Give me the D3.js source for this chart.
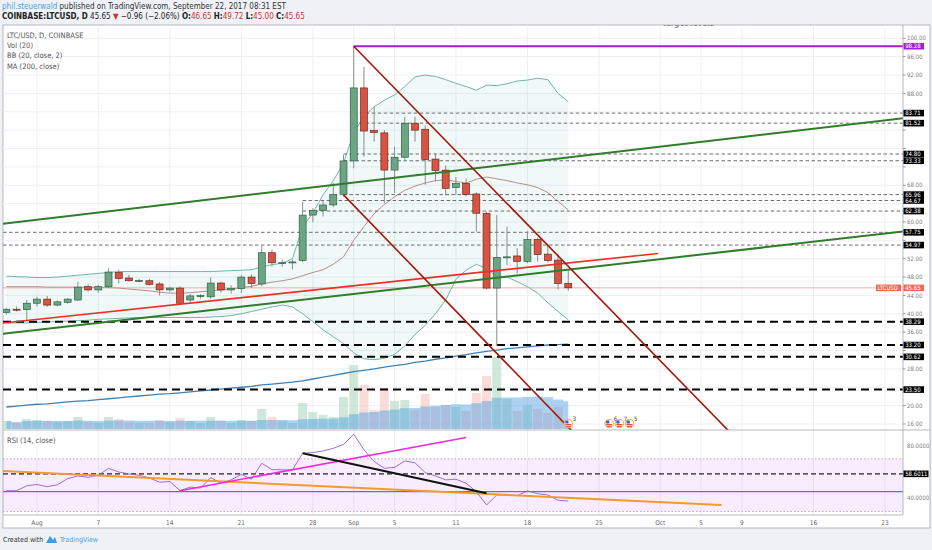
<!DOCTYPE html>
<html>
<head>
<meta charset="utf-8">
<script src="https://cdn.jsdelivr.net/npm/d3@7"></script>
<style>
  body { margin: 0; background: #eef1f5; }
  svg text { font-family: "Liberation Sans Narrow", "DejaVu Sans Condensed", "Liberation Sans", sans-serif; }
</style>
</head>
<body>
<svg id="chart" width="932" height="550"></svg>
<script>
// daily candles from Jul 29 2017 to Sep 22 2017
const firstDay = '2017-07-29';
const opens = [40.3, 41.0, 40.9, 42.3, 43.2, 41.9, 42.5, 43.0, 45.9, 45.2,
  45.9, 49.0, 47.8, 47.2, 47.2, 46.5, 45.2, 45.6, 43.0, 43.9,
  43.7, 46.7, 45.2, 45.5, 48.0, 46.5, 53.3, 51.1, 51.2, 51.6,
  61.5, 62.5, 63.7, 66.0, 73.3, 89.2, 79.9, 79.4, 71.3, 74.1,
  81.5, 80.2, 73.7, 71.3, 67.5, 68.4, 66.1, 61.9, 45.6, 52.2,
  52.6, 51.4, 56.2, 53.0, 51.7, 46.65];
const highs = [41.3, 41.6, 43.0, 43.7, 43.9, 42.9, 43.4, 47.0, 46.5, 46.3,
  49.9, 49.6, 48.5, 47.6, 47.6, 46.9, 45.9, 46.0, 44.3, 44.3,
  47.9, 47.0, 46.2, 48.4, 48.6, 54.8, 54.0, 51.8, 51.8, 64.4,
  63.0, 64.6, 68.5, 74.6, 98.28, 93.8, 85.1, 80.0, 76.4, 82.9,
  82.9, 81.0, 75.0, 72.3, 69.8, 69.5, 66.5, 62.2, 61.5, 59.0,
  54.3, 57.9, 56.6, 55.0, 53.0, 49.72];
const lows = [39.8, 40.5, 38.7, 41.6, 41.5, 41.6, 42.2, 42.8, 44.8, 44.6,
  45.6, 46.6, 47.0, 46.9, 46.2, 44.0, 44.8, 42.0, 42.3, 43.3,
  43.3, 44.6, 44.4, 44.6, 45.6, 46.0, 50.3, 50.3, 49.7, 51.3,
  59.9, 61.2, 63.2, 65.5, 71.7, 74.2, 77.5, 64.1, 66.3, 73.5,
  77.5, 68.1, 68.8, 65.8, 65.9, 65.6, 57.9, 45.3, 33.0, 50.6,
  48.8, 51.0, 51.4, 51.2, 45.3, 45.00];
const closes = [41.0, 40.9, 42.3, 43.2, 41.9, 42.6, 43.2, 45.8, 45.2, 45.9,
  49.1, 47.7, 47.2, 47.25, 46.4, 45.2, 45.6, 42.3, 43.9, 43.95,
  46.7, 45.2, 45.5, 48.0, 46.6, 53.3, 51.1, 51.15, 51.3, 61.5,
  62.5, 63.7, 66.0, 73.3, 89.2, 79.8, 79.5, 71.3, 74.1, 81.5,
  80.0, 73.6, 71.2, 67.3, 68.4, 66.0, 61.9, 45.6, 52.3, 52.4,
  51.4, 56.2, 52.9, 51.6, 46.61, 45.65];
// volume, thousands of LTC
const volumes = [400, 300, 500, 450, 400, 350, 400, 600, 350, 300,
  600, 500, 350, 300, 300, 450, 350, 550, 400, 300,
  600, 400, 300, 450, 400, 1000, 600, 400, 300, 1300,
  850, 700, 600, 1600, 3200, 2200, 950, 2050, 1400, 1450,
  950, 1750, 1100, 1200, 1100, 900, 1800, 2650, 3600, 1500,
  900, 1200, 1000, 800, 1100, 300];
const bbUpper = [48.2, 48.1, 48.0, 47.9, 47.9, 48.0, 48.2, 48.4, 48.6, 48.8,
  49.0, 49.2, 49.2, 49.2, 49.2, 49.2, 49.2, 49.2, 49.2, 49.2,
  49.2, 49.3, 49.4, 49.5, 49.6, 50.2, 50.7, 51.0, 52.0, 58.9,
  62.0, 65.9, 69.0, 72.8, 79.5, 83.0, 85.1, 86.5, 87.7, 89.5,
  91.6, 92.0, 91.7, 91.0, 90.2, 89.5, 88.7, 89.8, 89.7, 90.1,
  90.7, 90.9, 91.3, 91.0, 88.0, 86.2];
const bbBasis = [45.9, 45.9, 45.9, 45.9, 45.8, 45.8, 45.8, 45.8, 45.8, 45.8,
  45.7, 45.6, 45.4, 45.2, 45.0, 44.7, 44.5, 44.5, 44.6, 44.8,
  45.0, 45.2, 45.4, 45.7, 46.0, 46.5, 46.9, 47.2, 47.6, 48.3,
  49.0, 49.6, 50.8, 52.4, 56.0, 59.0, 61.8, 63.8, 65.5, 66.9,
  67.8, 68.5, 69.0, 69.2, 68.8, 68.5, 69.3, 69.8, 69.4, 69.0,
  68.5, 68.1, 67.5, 66.4, 64.5, 62.6];
const bbLower = [38.0, 38.0, 38.0, 38.1, 38.2, 38.3, 38.4, 38.5, 38.6, 38.8,
  38.9, 39.0, 39.1, 39.2, 39.2, 39.2, 39.2, 39.2, 39.2, 39.2,
  39.3, 39.4, 39.6, 40.0, 40.5, 41.0, 41.5, 41.9, 41.5, 40.0,
  38.3, 36.5, 35.0, 33.5, 31.5, 30.2, 30.0, 30.3, 31.2, 33.0,
  35.5, 37.5, 40.0, 43.0, 47.5, 49.5, 50.8, 49.8, 48.1, 48.0,
  47.0, 45.9, 44.5, 42.4, 40.5, 38.7];
const ma200 = [19.7, 19.9, 20.1, 20.3, 20.4, 20.6, 20.8, 21.0, 21.1, 21.3,
  21.5, 21.7, 21.9, 22.1, 22.3, 22.5, 22.6, 22.8, 23.0, 23.2,
  23.4, 23.6, 23.8, 24.0, 24.2, 24.5, 24.7, 24.9, 25.1, 25.4,
  25.8, 26.2, 26.6, 27.0, 27.4, 27.7, 28.0, 28.4, 28.7, 29.0,
  29.4, 29.7, 30.1, 30.4, 30.8, 31.1, 31.5, 31.8, 32.1, 32.4,
  32.6, 32.8, 33.0, 33.2, 33.3, 33.4];
const rsi = [45.8, 45.8, 49.5, 50.5, 48.8, 50.3, 55.0, 57.0, 56.0, 57.5,
  62.8, 60.0, 58.5, 57.5, 55.5, 52.2, 52.8, 45.8, 48.5, 47.8,
  55.7, 51.5, 54.0, 58.2, 54.5, 66.6, 61.8, 61.6, 61.6, 74.2,
  74.8, 76.0, 78.0, 81.0, 88.7, 77.0, 68.0, 62.8, 63.5, 68.4,
  67.0, 59.5, 57.0, 54.0, 54.5, 51.5, 45.0, 34.9, 42.5, 42.5,
  42.0, 45.6, 43.5, 42.5, 38.5, 37.9];

// axis labels
const priceTicks = [100, 96, 92, 88, 84, 80, 76, 72, 68, 64, 60, 56, 52, 48, 44, 40, 36, 32, 28, 24, 20, 16];
const rsiTicks = [80, 40];
const xTickDates = ['2017-08-01', '2017-08-07', '2017-08-14', '2017-08-21', '2017-08-28', '2017-09-01',
  '2017-09-05', '2017-09-11', '2017-09-18', '2017-09-25', '2017-10-01', '2017-10-05', '2017-10-09',
  '2017-10-16', '2017-10-23'];

// drawn levels and trend lines
const athLevel = 98.28;
const athStart = '2017-09-01';
const targetLevels = [83.71, 81.52, 74.80, 73.33, 65.96, 64.67, 62.38, 57.75, 54.97];
const targetStarts = ['2017-09-01', '2017-09-01', '2017-08-31', '2017-08-31', '2017-08-31',
  '2017-08-27', '2017-08-27', null, null];
const supportLevels = [38.29, 33.20, 30.62, 23.50];
const channelTop = [['2017-09-01', 98.28], ['2017-10-08', 13.8]];
const channelBottom = [['2017-08-31', 65.9], ['2017-09-23', 13.0]];
const greenUpper = [['2017-07-28', 59.46], ['2017-10-25', 82.64]];
const greenLower = [['2017-07-28', 35.5], ['2017-10-25', 57.96]];
const redSupport = [['2017-07-28', 37.85], ['2017-09-30T19:00Z', 53.14]];
const rsiLevel = 58.6011;
const rsiBlueLevel = 45.1;
const rsiOrange = [['2017-07-28', 61.0], ['2017-10-07', 34.9]];
const rsiMagenta = [['2017-08-15', 45.8], ['2017-09-12', 86.3]];
const rsiBlack = [['2017-08-27', 74.2], ['2017-09-14', 43.8]];
const eventDates = ['2017-09-22', '2017-09-26', '2017-09-27', '2017-09-28'];
const eventCounts = [3, 6, 7, 5];

// layout
const L = 3, R = 903, frameR = 930, T = 25, mainBot = 430, rsiBot = 515, frameBot = 528;
const upFill = '#6ba583', downFill = '#d75442', upLine = '#225437', downLine = '#5b1a13';

const parse = d3.isoParse;
const day0 = parse(firstDay);
const dates = closes.map((_, i) => d3.utcDay.offset(day0, i));
const candles = dates.map((d, i) => ({
  date: d, o: opens[i], h: highs[i], l: lows[i], c: closes[i], v: volumes[i],
  up: bbUpper[i], mid: bbBasis[i], lo: bbLower[i], ma: ma200[i], rsi: rsi[i],
  vma: d3.mean(volumes.slice(Math.max(0, i - 19), i + 1))
}));

const x = d3.scaleUtc().domain([parse('2017-08-01'), parse('2017-10-23')]).range([37, 885]);
const y = d3.scaleLinear().domain([16, 100]).range([424, 38.3]);
const yVol = d3.scaleLinear().domain([0, 4200]).range([429, 345]);
const yRsi = d3.scaleLinear().domain([40, 80]).range([498.3, 445.7]);

const svg = d3.select('#chart');
const fmt2 = d3.format('.2f');

svg.append('rect').attr('width', 932).attr('height', 550).attr('fill', '#eef1f5');
svg.append('rect').attr('x', L).attr('y', T).attr('width', frameR - L).attr('height', frameBot - T)
  .attr('fill', '#fff').attr('stroke', '#a3a7ad').attr('stroke-width', 0.8);

// header
const last = closes[closes.length - 1], prev = closes[closes.length - 2];
const chg = last - prev;
const h1 = svg.append('text').attr('x', 2).attr('y', 8.5).style('font-size', '8px').attr('fill', '#333');
h1.append('tspan').attr('fill', '#4aa3df').text('phil.steuerwald');
h1.append('tspan').text(' published on TradingView.com, September 22, 2017 08:31 EST');
const h2 = svg.append('text').attr('x', 2).attr('y', 19).style('font-size', '8px').attr('fill', '#222');
h2.append('tspan').attr('font-weight', 'bold').text('COINBASE:LTCUSD, D');
h2.append('tspan').text(` ${fmt2(last)} `);
h2.append('tspan').attr('fill', '#d0312d').text('▼');
h2.append('tspan').text(` ${d3.format('.2f')(chg).replace('-', '−')} (${d3.format('.2%')(chg / prev).replace('-', '−')}) `);
[['O:', opens], ['H:', highs], ['L:', lows], ['C:', closes]].forEach(([k, arr]) => {
  h2.append('tspan').attr('font-weight', 'bold').text(k);
  h2.append('tspan').attr('fill', '#c0392b').text(fmt2(arr[arr.length - 1]) + ' ');
});

// clips
const defs = svg.append('defs');
defs.append('clipPath').attr('id', 'clipMain').append('rect')
  .attr('x', L).attr('y', T).attr('width', R - L).attr('height', mainBot - T);
defs.append('clipPath').attr('id', 'clipRsi').append('rect')
  .attr('x', L).attr('y', mainBot).attr('width', R - L).attr('height', rsiBot - mainBot);

// grid
const grid = svg.append('g').attr('stroke', '#edf0f4').attr('stroke-width', 1);
grid.selectAll('line.v').data(xTickDates).join('line').attr('class', 'v')
  .attr('x1', d => x(parse(d))).attr('x2', d => x(parse(d))).attr('y1', T).attr('y2', rsiBot);
grid.selectAll('line.h').data(priceTicks).join('line').attr('class', 'h')
  .attr('x1', L).attr('x2', R).attr('y1', d => y(d)).attr('y2', d => y(d));

const main = svg.append('g').attr('clip-path', 'url(#clipMain)');

// cut-off title at the top edge (only its lowest pixels show)
main.append('text').attr('x', 662).attr('y', 26.4).style('font-size', '8px').attr('font-weight', 'bold')
  .attr('fill', '#888').text('Target levels');

// Bollinger bands
main.append('path').datum(candles).attr('fill', '#009688').attr('fill-opacity', 0.06)
  .attr('d', d3.area().x(d => x(d.date)).y0(d => y(d.lo)).y1(d => y(d.up)));

// volume
main.selectAll('rect.vol').data(candles).join('rect').attr('class', 'vol')
  .attr('x', d => x(d.date) - 4.5).attr('width', 9)
  .attr('y', d => yVol(d.v)).attr('height', d => yVol(0) - yVol(d.v))
  .attr('fill', d => d.c >= d.o ? '#a9d5b9' : '#f2c1bb').attr('fill-opacity', 0.55);
main.append('path').datum(candles).attr('fill', '#4a9be0').attr('fill-opacity', 0.45)
  .attr('d', d3.area().curve(d3.curveStep).x(d => x(d.date)).y0(yVol(0)).y1(d => yVol(d.vma)));

['up', 'lo'].forEach(k => {
  main.append('path').datum(candles).attr('fill', 'none').attr('stroke', '#5fae9f').attr('stroke-width', 0.9)
    .attr('d', d3.line().x(d => x(d.date)).y(d => y(d[k])));
});
main.append('path').datum(candles).attr('fill', 'none').attr('stroke', '#a9716f').attr('stroke-width', 0.8)
  .attr('d', d3.line().x(d => x(d.date)).y(d => y(d.mid)));

// MA 200
main.append('path').datum(candles).attr('fill', 'none').attr('stroke', '#3f81b5').attr('stroke-width', 1.3)
  .attr('d', d3.line().x(d => x(d.date)).y(d => y(d.ma)));

// last price line
main.append('line').attr('x1', L).attr('x2', R).attr('y1', y(last)).attr('y2', y(last))
  .attr('stroke', '#f08a7e').attr('stroke-width', 0.7);

// levels
main.selectAll('line.target').data(targetLevels).join('line').attr('class', 'target')
  .attr('x1', (d, i) => targetStarts[i] ? x(parse(targetStarts[i])) : L).attr('x2', R)
  .attr('y1', d => y(d)).attr('y2', d => y(d))
  .attr('stroke', '#6d6d6d').attr('stroke-width', 1).attr('stroke-dasharray', '3.5,2.5');
main.selectAll('line.support').data(supportLevels).join('line').attr('class', 'support')
  .attr('x1', L).attr('x2', R).attr('y1', d => y(d)).attr('y2', d => y(d))
  .attr('stroke', '#000').attr('stroke-width', 2).attr('stroke-dasharray', '8,5');

// candles
const cg = main.selectAll('g.candle').data(candles).join('g').attr('class', 'candle');
cg.append('line').attr('x1', d => x(d.date)).attr('x2', d => x(d.date))
  .attr('y1', d => y(d.h)).attr('y2', d => y(d.l)).attr('stroke', '#8c8c8c').attr('stroke-width', 1);
cg.append('rect').attr('x', d => x(d.date) - 3.5).attr('width', 7)
  .attr('y', d => y(Math.max(d.o, d.c)))
  .attr('height', d => Math.max(1, Math.abs(y(d.o) - y(d.c))))
  .attr('fill', d => d.c >= d.o ? upFill : downFill)
  .attr('stroke', d => d.c >= d.o ? upLine : downLine).attr('stroke-width', 0.6);

// trend lines
const seg = (sx, sy) => d3.line().x(d => sx(parse(d[0]))).y(d => sy(d[1]));
const mainSeg = seg(x, y);
main.append('line').attr('x1', x(parse(athStart))).attr('x2', R).attr('y1', y(athLevel)).attr('y2', y(athLevel))
  .attr('stroke', '#a21ce0').attr('stroke-width', 2);
[[greenUpper, '#2f7d2a', 2], [greenLower, '#2f7d2a', 2], [redSupport, '#e8302a', 1.6],
 [channelTop, '#a3190c', 1.6], [channelBottom, '#a3190c', 1.6]].forEach(([pts, col, w]) => {
  main.append('path').attr('d', mainSeg(pts)).attr('fill', 'none').attr('stroke', col).attr('stroke-width', w);
});

// event markers
const ev = main.selectAll('g.ev').data(eventDates).join('g').attr('class', 'ev')
  .attr('transform', d => `translate(${x(parse(d))},423.5)`);
ev.append('circle').attr('r', 4.2).attr('fill', '#fff').attr('stroke', '#f5a623').attr('stroke-width', 1);
ev.append('rect').attr('x', -3).attr('y', -3).attr('width', 3.2).attr('height', 3).attr('fill', '#3d5fc4');
ev.append('rect').attr('x', -3).attr('y', 0.6).attr('width', 6).attr('height', 1.1).attr('fill', '#e0392f');
ev.append('rect').attr('x', -2.4).attr('y', 2.3).attr('width', 4.8).attr('height', 1).attr('fill', '#e0392f');
ev.append('text').attr('x', 4.5).attr('y', -3).style('font-size', '6px').attr('fill', '#444')
  .text((d, i) => eventCounts[i]);

// pane legend
['LTC/USD, D, COINBASE', 'Vol (20)', 'BB (20, close, 2)', 'MA (200, close)'].forEach((t, i) => {
  svg.append('text').attr('x', 7).attr('y', 37.8 + i * 10.3).style('font-size', '7.5px').attr('fill', '#555').text(t);
});

// RSI pane
const rp = svg.append('g').attr('clip-path', 'url(#clipRsi)');
rp.append('rect').attr('x', L).attr('width', R - L).attr('y', yRsi(70)).attr('height', yRsi(30) - yRsi(70))
  .attr('fill', '#9915ff').attr('fill-opacity', 0.08);
[70, 30].forEach(v => rp.append('line').attr('x1', L).attr('x2', R).attr('y1', yRsi(v)).attr('y2', yRsi(v))
  .attr('stroke', '#b9a7d6').attr('stroke-dasharray', '1.5,2'));
rp.append('line').attr('x1', L).attr('x2', R).attr('y1', yRsi(rsiBlueLevel)).attr('y2', yRsi(rsiBlueLevel))
  .attr('stroke', '#5a73d8').attr('stroke-width', 1.2);
rp.append('line').attr('x1', L).attr('x2', R).attr('y1', yRsi(rsiLevel)).attr('y2', yRsi(rsiLevel))
  .attr('stroke', '#222').attr('stroke-width', 1.3).attr('stroke-dasharray', '5,3');
rp.append('path').datum(candles).attr('fill', 'none').attr('stroke', '#9b59d0').attr('stroke-width', 0.9)
  .attr('d', d3.line().x(d => x(d.date)).y(d => yRsi(d.rsi)));
const rsiSeg = seg(x, yRsi);
[[rsiOrange, '#f39a2e', 2], [rsiMagenta, '#ee2de0', 1.6], [rsiBlack, '#111', 2]].forEach(([pts, col, w]) => {
  rp.append('path').attr('d', rsiSeg(pts)).attr('fill', 'none').attr('stroke', col).attr('stroke-width', w);
});
svg.append('text').attr('x', 7).attr('y', 442.5).style('font-size', '7.5px').attr('fill', '#555').text('RSI (14, close)');

// pane borders
const borders = svg.append('g').attr('stroke', '#a3a7ad').attr('stroke-width', 0.8);
borders.append('line').attr('x1', L).attr('x2', frameR).attr('y1', mainBot).attr('y2', mainBot);
borders.append('line').attr('x1', L).attr('x2', R).attr('y1', rsiBot).attr('y2', rsiBot);
borders.append('line').attr('x1', R).attr('x2', R).attr('y1', T).attr('y2', rsiBot);

// price axis; tick labels hidden where a level badge sits on top of them
const badgeValues = targetLevels.concat(supportLevels, [athLevel, last]);
const freeTicks = priceTicks.filter(t => badgeValues.every(b => Math.abs(y(t) - y(b)) > 7));
const ax = svg.append('g');
ax.selectAll('line.t').data(priceTicks).join('line').attr('class', 't').attr('x1', R).attr('x2', R + 2.5)
  .attr('y1', d => y(d)).attr('y2', d => y(d)).attr('stroke', '#999');
ax.selectAll('text.t').data(freeTicks).join('text').attr('class', 't').attr('x', R + 4).attr('y', d => y(d) + 2.1)
  .style('font-size', '6px').attr('fill', '#7d7d7d').text(fmt2);
function axisBox(yPos, label, bg, w = 20.5) {
  ax.append('rect').attr('x', R + 0.5).attr('y', yPos - 3.3).attr('width', w).attr('height', 6.6).attr('fill', bg);
  ax.append('text').attr('x', R + 2.2).attr('y', yPos + 2.1).style('font-size', '6px').attr('fill', '#fff').text(label);
}
targetLevels.concat(supportLevels).forEach(v => axisBox(y(v), fmt2(v), '#000'));
axisBox(y(athLevel), fmt2(athLevel), '#a21ce0');
axisBox(y(last), fmt2(last), '#ef6a58');
svg.append('rect').attr('x', R - 27).attr('y', y(last) - 3.3).attr('width', 25).attr('height', 6.6).attr('fill', '#ef6a58');
svg.append('text').attr('x', R - 25.5).attr('y', y(last) + 2.1).style('font-size', '6px').attr('fill', '#fff').text('LTCUSD');

// RSI axis
ax.selectAll('text.r').data(rsiTicks).join('text').attr('class', 'r').attr('x', R + 4).attr('y', d => yRsi(d) + 2.1)
  .style('font-size', '6px').attr('fill', '#7d7d7d').text(d => d3.format('.4f')(d));
axisBox(yRsi(rsiLevel), d3.format('.4f')(rsiLevel), '#000', 25);

// time axis
svg.selectAll('text.x').data(xTickDates).join('text').attr('class', 'x').attr('x', d => x(parse(d))).attr('y', 525)
  .attr('text-anchor', 'middle').style('font-size', '6.5px').attr('fill', '#666')
  .text(d => parse(d).getUTCDate() === 1 ? d3.utcFormat('%b')(parse(d)) : d3.utcFormat('%-d')(parse(d)));

// footer
svg.append('text').attr('x', 3).attr('y', 541.5).style('font-size', '7px').attr('fill', '#333').text('Created with');
svg.append('path').attr('d', 'M46,543 L50,536 L53,540 L55,537 L57,543 Z').attr('fill', '#3d9ae8');
svg.append('text').attr('x', 60).attr('y', 541.5).style('font-size', '7px').attr('fill', '#4aa3df').text('TradingView');
</script>
</body>
</html>
